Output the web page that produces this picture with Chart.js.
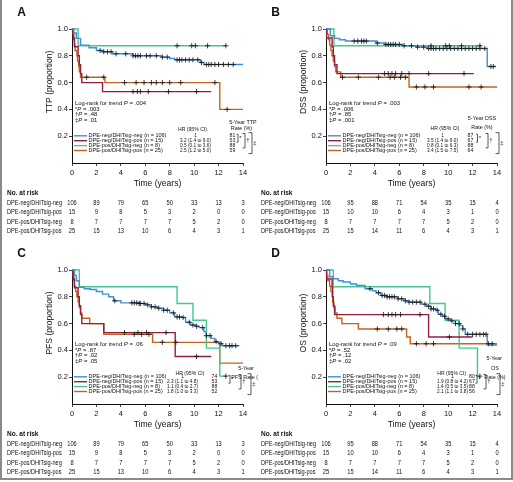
<!DOCTYPE html>
<html>
<head>
<meta charset="utf-8">
<script src="https://cdn.jsdelivr.net/npm/chart.js@4.4.1/dist/chart.umd.min.js"></script>
<style>
  body { margin: 0; background: #fff; }
  #fig { position: relative; width: 513px; height: 482px; overflow: hidden; }
  #frame { position: absolute; left: 0; top: 0; width: 509px; height: 478px; border: 2px solid #8a8a8a; border-top: none; }
  .panel { position: absolute; width: 258px; height: 241px; }
</style>
</head>
<body>
<div id="fig">
  <div id="frame"></div>
  <div class="panel" style="left:0;top:0"><canvas id="chartA" width="258" height="241"></canvas></div>
  <div class="panel" style="left:254px;top:0"><canvas id="chartB" width="258" height="241"></canvas></div>
  <div class="panel" style="left:0;top:241px"><canvas id="chartC" width="258" height="241"></canvas></div>
  <div class="panel" style="left:254px;top:241px"><canvas id="chartD" width="258" height="241"></canvas></div>
</div>
<script>
// 共用数据
const years = [0, 2, 4, 6, 8, 10, 12, 14];
const yTicks = [0.2, 0.4, 0.6, 0.8, 1.0];
const groupNames = ["DPE-neg/DHITsig-neg", "DPE-neg/DHITsig-pos", "DPE-pos/DHITsig-neg", "DPE-pos/DHITsig-pos"];
const groupN = [106, 15, 8, 25];
const groupColors = ["#3f8fd6", "#931f3f", "#45c594", "#c4631f"];

// A: TTP 曲线 [时间, 生存率]
const ttpNegNeg = [[0,1],[0.15,0.97],[0.35,0.93],[0.7,0.88],[1.4,0.86],[2.0,0.84],[2.5,0.83],[3.3,0.815],[5.0,0.80],[7.3,0.79],[8.0,0.78],[8.4,0.77],[10.5,0.75],[10.8,0.735],[14,0.735]];
const ttpNegPos = [[0,1],[0.1,0.933],[0.2,0.867],[0.5,0.8],[0.6,0.733],[0.7,0.667],[0.8,0.6],[2.5,0.533],[11.4,0.533]];
const ttpPosNeg = [[0,1],[0.5,0.875],[12.6,0.875]];
const ttpPosPos = [[0,1],[0.1,0.96],[0.15,0.92],[0.2,0.88],[0.25,0.84],[0.4,0.8],[0.45,0.76],[0.55,0.72],[0.6,0.68],[0.7,0.64],[2.7,0.6],[12.1,0.4],[14,0.4]];
const ttpNegNegCens = [2.3,2.6,2.9,3.2,3.6,4.4,5.0,5.2,5.4,5.6,6.1,6.4,6.9,7.4,7.8,8.6,8.8,9.0,9.3,9.6,9.9,10.3,10.6,11.0,11.2,11.4,11.7,12.0,12.4,12.8,13.2];
const ttpNegPosCens = [5.0,5.35,5.6,6.25,7.9,10.2];
const ttpPosNegCens = [8.6,9.8,10.1,11.1,12.6];
const ttpPosPosCens = [1.2,2.6,4.3,5.25,5.9,6.5,6.9,7.4,8.0,8.9,11.7,12.7];

// B: DSS 曲线
const dssNegNeg = [[0,1],[0.35,0.95],[0.7,0.93],[1.1,0.92],[1.6,0.91],[4.1,0.895],[4.8,0.885],[6.3,0.875],[7.4,0.865],[8.3,0.855],[13.2,0.72],[13.9,0.72]];
const dssNegPos = [[0,1],[0.05,0.933],[0.5,0.867],[0.6,0.8],[0.7,0.733],[0.9,0.667],[12.1,0.667]];
const dssPosNeg = [[0,1],[0.65,0.875],[12.7,0.875]];
const dssPosPos = [[0,1],[0.1,0.96],[0.2,0.92],[0.3,0.88],[0.4,0.84],[0.5,0.8],[0.6,0.76],[0.7,0.72],[0.8,0.68],[1.2,0.64],[6.8,0.567],[14,0.567]];
const dssNegNegCens = [2.3,2.6,2.9,3.1,3.3,4.2,4.9,5.1,5.3,5.5,5.7,6.0,6.4,7.0,7.5,8.0,8.4,8.6,8.8,9.0,9.3,9.6,9.9,10.2,10.5,10.8,11.1,11.4,11.7,12.0,12.3,12.6,13.0,13.5,13.7];
const dssNegPosCens = [4.8,5.1,5.4,5.7,6.2,6.8,8.4,11.3];
const dssPosNegCens = [8.6,9.8,10.1,11.1,12.6];
const dssPosPosCens = [1.35,2.65,4.3,5.25,5.6,6.1,6.5,7.4,8.1,8.8,11.7,12.7];

// C: PFS 曲线
const pfsNegNeg = [[0,1],[0.2,0.96],[0.35,0.92],[0.6,0.87],[1.0,0.86],[1.5,0.855],[2.0,0.84],[2.5,0.82],[3.0,0.80],[3.4,0.77],[4.0,0.755],[5.5,0.75],[6.0,0.74],[6.5,0.725],[7.0,0.715],[7.5,0.70],[8.0,0.68],[8.4,0.65],[9.0,0.645],[9.3,0.61],[9.7,0.59],[10.1,0.58],[10.4,0.57],[10.8,0.54],[11.0,0.51],[11.4,0.49],[11.7,0.465],[12.0,0.45],[12.3,0.435],[13.7,0.435]];
const pfsNegPos = [[0,1],[0.1,0.933],[0.2,0.867],[0.5,0.8],[0.6,0.733],[0.7,0.667],[0.8,0.6],[2.6,0.533],[8.45,0.355],[11.4,0.355]];
const pfsPosNeg = [[0,1],[0.6,0.875],[8.6,0.75],[9.9,0.625],[11.0,0.417],[12.1,0.208],[12.6,0.208]];
const pfsPosPos = [[0,1],[0.1,0.96],[0.15,0.92],[0.2,0.88],[0.3,0.84],[0.4,0.8],[0.5,0.76],[0.6,0.72],[0.7,0.68],[0.8,0.64],[1.45,0.6],[2.6,0.52],[6.6,0.46],[12.1,0.305],[14,0.305]];
const pfsNegNegCens = [3.5,4.9,5.1,5.3,5.5,5.6,5.9,6.2,6.5,6.8,7.1,7.5,7.8,8.3,8.6,8.8,9.1,9.6,9.9,10.2,10.7,11.0,11.3,11.8,12.2,12.6,12.9,13.1,13.4];
const pfsNegPosCens = [4.3,5.4,6.1,7.7,10.2];
const pfsPosNegCens = [12.6];
const pfsPosPosCens = [5.1,5.7,6.3,7.4,8.5];

// D: OS 曲线
const osNegNeg = [[0,1],[0.3,0.95],[0.6,0.935],[1.0,0.92],[1.4,0.91],[2.0,0.895],[2.5,0.885],[3.2,0.86],[3.8,0.845],[4.1,0.83],[4.5,0.81],[5.0,0.80],[5.9,0.785],[6.4,0.77],[6.8,0.76],[7.8,0.745],[8.2,0.73],[8.6,0.71],[9.0,0.70],[9.2,0.67],[9.5,0.655],[9.8,0.635],[10.2,0.62],[10.6,0.60],[11.0,0.585],[11.2,0.56],[11.4,0.52],[13.2,0.44],[14,0.44]];
const osNegPos = [[0,1],[0.05,0.933],[0.5,0.867],[0.55,0.8],[0.6,0.733],[0.7,0.667],[8.4,0.5],[12.0,0.5]];
const osPosNeg = [[0,1],[0.6,0.875],[8.5,0.75],[9.75,0.625],[10.9,0.417],[12.4,0.208],[12.6,0.208]];
const osPosPos = [[0,1],[0.05,0.96],[0.15,0.92],[0.3,0.88],[0.4,0.84],[0.5,0.8],[0.55,0.76],[0.65,0.72],[0.75,0.68],[0.9,0.64],[1.3,0.6],[2.65,0.56],[6.6,0.5],[6.9,0.45],[14,0.45]];
const osNegNegCens = [3.6,4.3,4.6,4.8,5.0,5.2,5.4,5.6,5.9,6.2,6.5,6.8,7.1,7.4,7.7,8.1,8.4,8.6,8.8,9.1,9.4,9.7,10.0,10.3,10.6,10.9,11.2,11.6,12.0,12.3,12.6,12.9,13.1];
const osNegPosCens = [4.7,5.1,5.4,5.7,6.1,7.7,10.1];
const osPosNegCens = [12.6];
const osPosPosCens = [4.2,5.1,5.8,6.2,7.4,8.2,8.8,13.3,13.6];

// 统计文字
const ttpLogrank = [".004", ".003", ".48", ".01"];
const dssLogrank = [".003", ".006", ".85", ".001"];
const pfsLogrank = [".06", ".87", ".02", ".05"];
const osLogrank = [".09", ".52", ".12", ".02"];
const ttpHR = ["1", "3.2 (1.4 to 9.0)", "0.5 (0.1 to 3.6)", "2.5 (1.2 to 5.0)"];
const dssHR = ["1", "3.5 (1.4 to 9.0)", "0.8 (0.1 to 6.3)", "3.4 (1.5 to 7.5)"];
const pfsHR = ["1", "2.3 (1.1 to 4.8)", "1.1 (0.4 to 2.7)", "1.8 (1.0 to 3.3)"];
const osHR = ["1", "1.9 (0.8 to 4.2)", "1.4 (0.5 to 3.5)", "2.1 (1.1 to 3.8)"];
const ttpRate = [81, 53, 88, 59];
const dssRate = [87, 67, 88, 64];
const pfsRate = [74, 53, 88, 52];
const osRate = [80, 67, 88, 56];

// 风险人数表
const ttpRisk = [[106,89,79,65,50,33,13,3],[15,9,8,5,3,2,0,0],[8,7,7,7,7,5,2,0],[25,15,13,10,6,4,3,1]];
const dssRisk = [[106,95,88,71,54,35,15,4],[15,10,10,6,4,3,1,0],[8,7,7,7,7,5,2,0],[25,15,14,11,6,4,3,1]];
const pfsRisk = [[106,89,79,65,50,33,13,3],[15,9,8,5,3,2,0,0],[8,7,7,7,7,5,2,0],[25,15,13,10,6,4,3,1]];
const osRisk = [[106,95,88,71,54,35,15,4],[15,10,10,6,4,3,1,0],[8,7,7,7,7,5,2,0],[25,15,14,11,6,4,3,1]];

const FONT = "'Liberation Sans', Arial, sans-serif";
const INK = "#111";

const panels = [
  { id: "chartA", letter: "A", name: "TTP", logrank: ttpLogrank, hr: ttpHR, rate: ttpRate, risk: ttpRisk,
    curves: [ttpNegNeg, ttpNegPos, ttpPosNeg, ttpPosPos], cens: [ttpNegNegCens, ttpNegPosCens, ttpPosNegCens, ttpPosPosCens],
    hrHead: [192.5, 129.3], hrX: 195.5, rateX: 232.5,
    rateHead: [["5-Year TTP", 243, 122.3], ["Rate (%)", 241.5, 128.3]], brackets: [238, 245, 252] },
  { id: "chartB", letter: "B", name: "DSS", logrank: dssLogrank, hr: dssHR, rate: dssRate, risk: dssRisk,
    curves: [dssNegNeg, dssNegPos, dssPosNeg, dssPosPos], cens: [dssNegNegCens, dssNegPosCens, dssPosNegCens, dssPosPosCens],
    hrHead: [191, 128.3], hrX: 188.5, rateX: 216.5,
    rateHead: [["5-Year DSS", 228, 118.3], ["Rate (%)", 228, 127]], brackets: [223.5, 234, 245] },
  { id: "chartC", letter: "C", name: "PFS", logrank: pfsLogrank, hr: pfsHR, rate: pfsRate, risk: pfsRisk,
    curves: [pfsNegNeg, pfsNegPos, pfsPosNeg, pfsPosPos], cens: [pfsNegNegCens, pfsNegPosCens, pfsPosNegCens, pfsPosPosCens],
    hrHead: [190, 132.3], hrX: 182.5, rateX: 214.5,
    rateHead: [["5-Year", 246, 127.3], ["PFS Rate (%)", 248, 136]], brackets: [230, 241, 251] },
  { id: "chartD", letter: "D", name: "OS", logrank: osLogrank, hr: osHR, rate: osRate, risk: osRisk,
    curves: [osNegNeg, osNegPos, osPosNeg, osPosPos], cens: [osNegNegCens, osNegPosCens, osPosNegCens, osPosPosCens],
    hrHead: [197.7, 132], hrX: 198.5, rateX: 218,
    rateHead: [["5-Year", 240.3, 117.3], ["OS", 241, 127.3], ["Rate (%)", 241, 136]], brackets: [223, 232, 246] }
];

// 取某时刻的生存率（阶梯函数）
function survAt(steps, t) {
  let s = steps[0][1];
  for (const [x, y] of steps) if (x <= t) s = y;
  return s;
}

// 横向压缩的文字，模仿窄体字
function txt(ctx, s, x, y, size, align, weight, sq) {
  sq = sq || 1;
  ctx.font = (weight || "") + " " + size + "px " + FONT;
  ctx.textAlign = align || "left";
  ctx.textBaseline = "middle";
  ctx.save();
  ctx.translate(x, y);
  ctx.scale(sq, 1);
  ctx.fillText(s, 0, 0);
  ctx.restore();
}

function rich(ctx, parts, x, y, size, sq) {
  ctx.save();
  ctx.translate(x, y);
  ctx.scale(sq, 1);
  let cx = 0;
  ctx.textAlign = "left";
  ctx.textBaseline = "middle";
  for (const [s, it] of parts) {
    ctx.font = (it ? "italic " : "") + size + "px " + FONT;
    ctx.fillText(s, cx, 0);
    cx += ctx.measureText(s).width;
  }
  ctx.restore();
}

function textPlugin(p) {
  return {
    id: "panelText",
    afterDraw(chart) {
      const ctx = chart.ctx;
      const xs = chart.scales.x;
      ctx.save();
      ctx.fillStyle = INK;
      ctx.strokeStyle = INK;

      txt(ctx, p.letter, 21.5, 13, 12, "center", "bold");

      // 轴标题
      txt(ctx, "Time (years)", 157.5, 183, 9.5, "center", "", 0.9);
      ctx.save();
      ctx.translate(49, 82);
      ctx.rotate(-Math.PI / 2);
      txt(ctx, p.name + " (proportion)", 0, 0, 9.5, "center", "", 0.9);
      ctx.restore();

      // Log-rank
      const lrY = [103.3, 109, 114.7, 120.4];
      const sym = ["*", "\u2020", "\u2021"];
      rich(ctx, [["Log-rank for trend ", false], ["P", true], [" = " + p.logrank[0], false]], 75, lrY[0], 6.2, 0.96);
      for (let i = 1; i < 4; i++) {
        rich(ctx, [[sym[i - 1], false], ["P", true], [" = " + p.logrank[i], false]], 75, lrY[i], 6.2, 0.96);
      }

      // 图例 + HR + 5年率
      const rowY = [135.8, 140.7, 145.6, 150.5];
      txt(ctx, "HR (95% CI)", p.hrHead[0], p.hrHead[1], 6, "center", "", 0.85);
      p.rateHead.forEach(([s, x, y]) => txt(ctx, s, x, y, 6, "center", "", 0.9));
      for (let i = 0; i < 4; i++) {
        ctx.strokeStyle = groupColors[i];
        ctx.lineWidth = 1.4;
        ctx.beginPath();
        ctx.moveTo(74, rowY[i]);
        ctx.lineTo(87, rowY[i]);
        ctx.stroke();
        ctx.fillStyle = INK;
        txt(ctx, groupNames[i] + " (n = " + groupN[i] + ")", 88.5, rowY[i], 5.8, "left", "", 0.95);
        txt(ctx, p.hr[i], p.hrX, rowY[i], 5.8, "center", "", 0.82);
        txt(ctx, String(p.rate[i]), p.rateX, rowY[i], 5.8, "center", "", 0.9);
      }

      // 括号
      ctx.strokeStyle = INK;
      ctx.lineWidth = 0.7;
      p.brackets.forEach((bx, k) => {
        const y0 = rowY[0] - 1.5 - k * 0.8, y1 = rowY[k + 1] + 1.5 + k * 0.8;
        const w = 1.5 + k;
        ctx.beginPath();
        ctx.moveTo(bx - w, y0); ctx.lineTo(bx, y0); ctx.lineTo(bx, y1); ctx.lineTo(bx - w, y1);
        ctx.stroke();
        txt(ctx, sym[k], bx + 1.2, (y0 + y1) / 2, 6);
      });

      // 风险人数表
      txt(ctx, "No. at risk", 7, 193.3, 6.5, "left", "bold");
      for (let i = 0; i < 4; i++) {
        const y = 203.3 + 9.15 * i;
        txt(ctx, groupNames[i], 7, y, 7, "left", "", 0.8);
        p.risk[i].forEach((v, j) => txt(ctx, String(v), xs.getPixelForValue(years[j]), y, 7, "center", "", 0.82));
      }
      ctx.restore();
    }
  };
}

panels.forEach(p => {
  const lines = p.curves.map((c, i) => ({
    data: c.map(([x, y]) => ({ x, y })),
    borderColor: groupColors[i],
    borderWidth: 1.4,
    stepped: "before",
    pointRadius: 0,
    fill: false,
    clip: false,
    order: 2
  }));
  const marks = p.cens.map((c, i) => ({
    data: c.map(t => ({ x: t, y: survAt(p.curves[i], t) })),
    showLine: false,
    pointStyle: "cross",
    pointRadius: 2.6,
    borderColor: INK,
    borderWidth: 0.8,
    clip: false,
    order: 1
  }));

  new Chart(document.getElementById(p.id).getContext("2d"), {
    type: "line",
    data: { datasets: lines.concat(marks) },
    options: {
      responsive: false,
      animation: false,
      events: [],
      layout: { padding: { top: 29, right: 15, left: 0, bottom: 0 } },
      plugins: { legend: { display: false }, tooltip: { enabled: false } },
      scales: {
        x: {
          type: "linear", min: 0, max: 14,
          afterBuildTicks: s => { s.ticks = years.map(v => ({ value: v })); },
          afterFit: s => { s.height = 78; },
          ticks: { color: INK, font: { size: 7.5, family: FONT }, padding: 2, maxRotation: 0, autoSkip: false },
          grid: { drawOnChartArea: false, tickLength: 3, color: INK, lineWidth: 0.8 },
          border: { color: INK, width: 1 }
        },
        y: {
          type: "linear", min: 0, max: 1,
          afterBuildTicks: s => { s.ticks = yTicks.map(v => ({ value: v })); },
          afterFit: s => { s.width = 72; },
          ticks: { color: INK, font: { size: 7.5, family: FONT }, padding: 1, callback: v => v.toFixed(1) },
          grid: { drawOnChartArea: false, tickLength: 3, color: INK, lineWidth: 0.8 },
          border: { color: INK, width: 1 }
        }
      }
    },
    plugins: [textPlugin(p)]
  });
});
</script>
</body>
</html>
